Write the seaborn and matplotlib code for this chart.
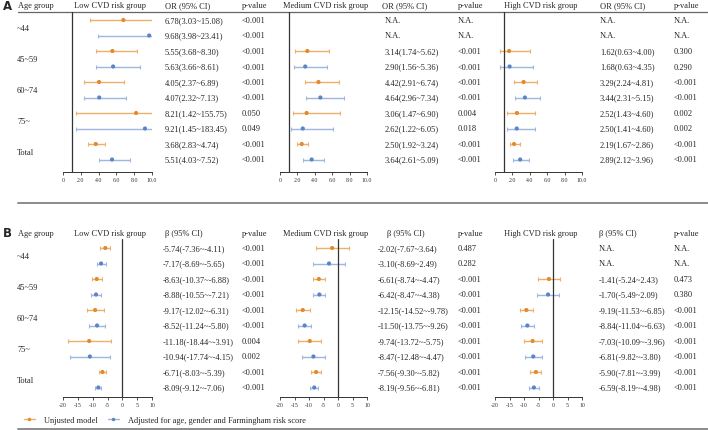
import numpy as np
import pandas as pd
import matplotlib.pyplot as plt
import seaborn as sns
from matplotlib.lines import Line2D

sns.set_theme(style="ticks")
plt.rcParams["font.family"] = ["Liberation Serif", "DejaVu Serif"]

W, H = 708, 431
FS = 6.0

# %% data
age_groups = ["~44", "45~59", "60~74", "75~", "Total"]
models = ["Unjusted model", "Adjusted for age, gender and Farmingham risk score"]
risk_groups = ["Low CVD risk group", "Medium CVD risk group", "High CVD risk group"]
na = np.nan

# panel A: odds ratio (95% CI); rows alternate unadjusted / adjusted per age group
or_low_est = [6.78, 9.68, 5.55, 5.63, 4.05, 4.07, 8.21, 9.21, 3.68, 5.51]
or_low_lo = [3.03, 3.98, 3.68, 3.66, 2.37, 2.32, 1.42, 1.45, 2.83, 4.03]
or_low_hi = [15.08, 23.41, 8.30, 8.61, 6.89, 7.13, 155.75, 183.45, 4.74, 7.52]
or_low_p = ["<0.001", "<0.001", "<0.001", "<0.001", "<0.001", "<0.001", "0.050", "0.049", "<0.001", "<0.001"]

or_med_est = [na, na, 3.14, 2.90, 4.42, 4.64, 3.06, 2.62, 2.50, 3.64]
or_med_lo = [na, na, 1.74, 1.56, 2.91, 2.96, 1.47, 1.22, 1.92, 2.61]
or_med_hi = [na, na, 5.62, 5.36, 6.74, 7.34, 6.90, 6.05, 3.24, 5.09]
or_med_p = ["N.A.", "N.A.", "<0.001", "<0.001", "<0.001", "<0.001", "0.004", "0.018", "<0.001", "<0.001"]

or_high_est = [na, na, 1.62, 1.68, 3.29, 3.44, 2.52, 2.50, 2.19, 2.89]
or_high_lo = [na, na, 0.63, 0.63, 2.24, 2.31, 1.43, 1.41, 1.67, 2.12]
or_high_hi = [na, na, 4.00, 4.35, 4.81, 5.15, 4.60, 4.60, 2.86, 3.96]
or_high_p = ["N.A.", "N.A.", "0.300", "0.290", "<0.001", "<0.001", "0.002", "0.002", "<0.001", "<0.001"]

# panel B: beta (95% CI)
b_low_est = [-5.74, -7.17, -8.63, -8.88, -9.17, -8.52, -11.18, -10.94, -6.71, -8.09]
b_low_lo = [-7.36, -8.69, -10.37, -10.55, -12.02, -11.24, -18.44, -17.74, -8.03, -9.12]
b_low_hi = [-4.11, -5.65, -6.88, -7.21, -6.31, -5.80, -3.91, -4.15, -5.39, -7.06]
b_low_p = ["<0.001", "<0.001", "<0.001", "<0.001", "<0.001", "<0.001", "0.004", "0.002", "<0.001", "<0.001"]

b_med_est = [-2.02, -3.10, -6.61, -6.42, -12.15, -11.50, -9.74, -8.47, -7.56, -8.19]
b_med_lo = [-7.67, -8.69, -8.74, -8.47, -14.52, -13.75, -13.72, -12.48, -9.30, -9.56]
b_med_hi = [3.64, 2.49, -4.47, -4.38, -9.78, -9.26, -5.75, -4.47, -5.82, -6.81]
b_med_p = ["0.487", "0.282", "<0.001", "<0.001", "<0.001", "<0.001", "<0.001", "<0.001", "<0.001", "<0.001"]

b_high_est = [na, na, -1.41, -1.70, -9.19, -8.84, -7.03, -6.81, -5.90, -6.59]
b_high_lo = [na, na, -5.24, -5.49, -11.53, -11.04, -10.09, -9.82, -7.81, -8.19]
b_high_hi = [na, na, 2.43, 2.09, -6.85, -6.63, -3.96, -3.80, -3.99, -4.98]
b_high_p = ["N.A.", "N.A.", "0.473", "0.380", "<0.001", "<0.001", "<0.001", "<0.001", "<0.001", "<0.001"]

panels = {
    "A": [(or_low_est, or_low_lo, or_low_hi, or_low_p),
          (or_med_est, or_med_lo, or_med_hi, or_med_p),
          (or_high_est, or_high_lo, or_high_hi, or_high_p)],
    "B": [(b_low_est, b_low_lo, b_low_hi, b_low_p),
          (b_med_est, b_med_lo, b_med_hi, b_med_p),
          (b_high_est, b_high_lo, b_high_hi, b_high_p)],
}

mk_col = {models[0]: "#E38B2C", models[1]: "#5B84C8"}
ln_col = {models[0]: "#EDB06A", models[1]: "#9DB7E0"}

# %% layout (pixels)
layout = {
    "A": dict(y_head=6, r0=21, step=15.5, ytop=13, ybot=173, y_leg=193, y_rule=204,
              ci="OR (95% CI)", xlim=(0, 10), ref=1,
              ticks=[0, 2, 4, 6, 8, 10], labels=["0", "2.0", "4.0", "6.0", "8.0", "10.0"],
              est_x=[165, 385, 600], est_hx=[165, 382, 600]),
    "B": dict(y_head=234, r0=249, step=15.5, ytop=240, ybot=398, y_leg=421, y_rule=430,
              ci="β (95% CI)", xlim=(-20, 10), ref=0,
              ticks=[-20, -15, -10, -5, 0, 5, 10], labels=["-20", "-15", "-10", "-5", "0", "5", "10"],
              est_x=[163, 378, 599], est_hx=[165, 387, 599]),
}
plot_x = [(63, 152), (280, 367), (495, 582)]
p_x = [242, 458, 674]

fig = plt.figure(figsize=(W / 100, H / 100), dpi=100)
bg = fig.add_axes([0, 0, 1, 1])
bg.set_xlim(0, W)
bg.set_ylim(H, 0)
bg.axis("off")

for key, groups in panels.items():
    L = layout[key]
    rows_y = [L["r0"] + i * L["step"] for i in range(10)]
    bg.text(3, L["y_head"], key, fontsize=8.5, fontweight="bold", family="DejaVu Sans", va="center")
    bg.text(18, L["y_head"], "Age group", fontsize=FS, va="center")
    for j, ag in enumerate(age_groups):
        bg.text(17, (rows_y[2 * j] + rows_y[2 * j + 1]) / 2, ag, fontsize=FS, va="center")
    if key == "A":
        bg.plot([18, W], [13, 13], color="#666666", lw=0.9)
    bg.plot([18, W], [L["y_rule"], L["y_rule"]], color="#8c8c8c", lw=1.4)

    for g, (est, lo, hi, pv) in enumerate(groups):
        x0, x1 = plot_x[g]
        bg.text((x0 + x1) / 2 + 2, L["y_head"], risk_groups[g], fontsize=FS, va="center", ha="center")
        bg.text(L["est_hx"][g], L["y_head"], L["ci"], fontsize=FS, va="center")
        bg.text(p_x[g], L["y_head"], "p-value", fontsize=FS, va="center")
        for i in range(10):
            s = "N.A." if np.isnan(est[i]) else f"{est[i]:.2f}({lo[i]:.2f}~{hi[i]:.2f})"
            bg.text(L["est_x"][g], rows_y[i], s, fontsize=FS, va="center")
            bg.text(p_x[g], rows_y[i], pv[i], fontsize=FS, va="center")

        df = pd.DataFrame({"row": np.arange(10), "est": est, "lo": lo, "hi": hi,
                           "model": [models[i % 2] for i in range(10)]}).dropna()
        ax = fig.add_axes([x0 / W, 1 - L["ybot"] / H, (x1 - x0) / W, (L["ybot"] - L["ytop"]) / H])
        ax.patch.set_alpha(0)
        for m in models:
            sub = df[df.model == m]
            ax.errorbar(sub.est, sub.row, xerr=[sub.est - sub.lo, sub.hi - sub.est], fmt="none",
                        ecolor=ln_col[m], elinewidth=1.0, capsize=1.3, capthick=0.8)
        sns.scatterplot(data=df, x="est", y="row", hue="model", palette=mk_col, s=9,
                        linewidth=0, legend=False, ax=ax, zorder=3)
        ax.axvline(L["ref"], color="#333333", lw=0.9)
        ax.set_xlim(*L["xlim"])
        ax.set_ylim((L["ybot"] - L["r0"]) / L["step"], (L["ytop"] - L["r0"]) / L["step"])
        ax.set_xticks(L["ticks"])
        ax.set_xticklabels(L["labels"])
        ax.set_yticks([])
        ax.set_xlabel("")
        ax.set_ylabel("")
        for sp in ["left", "top", "right"]:
            ax.spines[sp].set_visible(False)
        ax.spines["bottom"].set_linewidth(0.7)
        ax.spines["bottom"].set_color("#333333")
        ax.tick_params(axis="x", labelsize=4.2, length=2, width=0.6, pad=1.5, colors="#333333")

    handles = [Line2D([], [], color=ln_col[m], lw=1, marker="o", markersize=2.5,
                      markerfacecolor=mk_col[m], markeredgewidth=0) for m in models]
    bg.legend(handles, models, loc="center left", ncol=2, frameon=False, fontsize=FS,
              bbox_to_anchor=(24 / W, 1 - L["y_leg"] / H), bbox_transform=fig.transFigure,
              handlelength=1.3, handletextpad=1.1, columnspacing=1.2, borderpad=0, borderaxespad=0)

fig.savefig("out.png", dpi=100)
